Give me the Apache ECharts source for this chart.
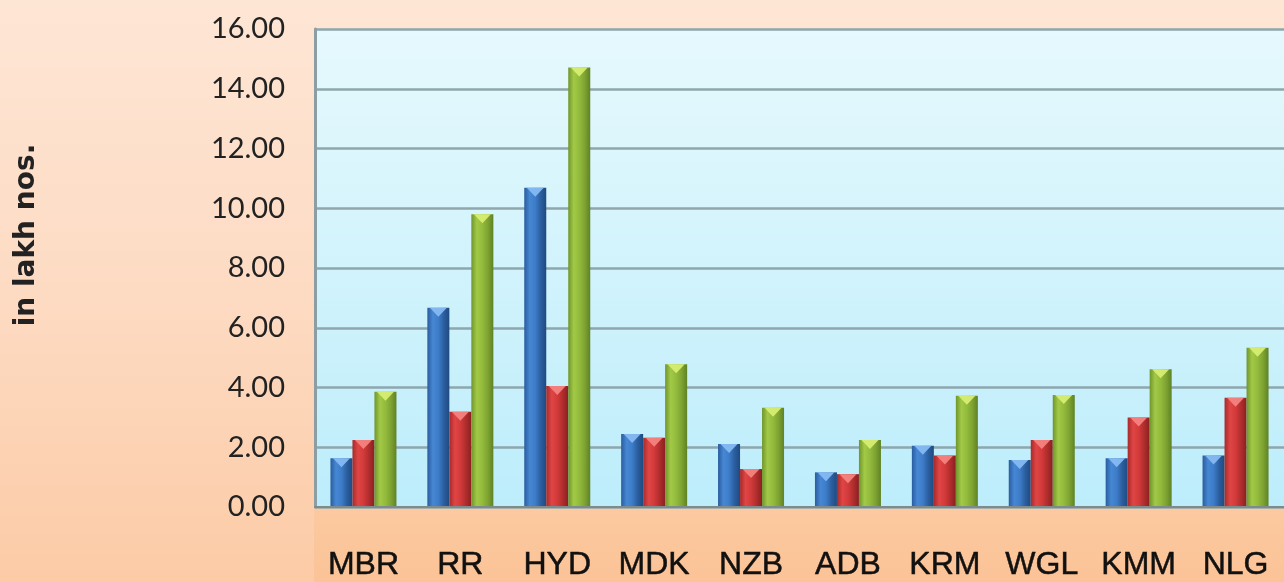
<!DOCTYPE html>
<html>
<head>
<meta charset="utf-8">
<script src="https://cdn.jsdelivr.net/npm/echarts@6/dist/echarts.min.js"></script>
<style>
html,body{margin:0;padding:0;width:1284px;height:582px;overflow:hidden;}
#chart{width:1284px;height:582px;}
</style>
</head>
<body>
<div id="chart"></div>
<script>
// ---- data ----
const categories = ['MBR', 'RR', 'HYD', 'MDK', 'NZB', 'ADB', 'KRM', 'WGL', 'KMM', 'NLG'];
const seriesBlue = [1.63, 6.67, 10.69, 2.44, 2.11, 1.16, 2.05, 1.57, 1.63, 1.72];
const seriesRed = [2.24, 3.19, 4.05, 2.32, 1.27, 1.10, 1.72, 2.24, 3.00, 3.66];
const seriesGreen = [3.86, 9.80, 14.71, 4.78, 3.32, 2.24, 3.72, 3.75, 4.61, 5.33];
const yMin = 0, yMax = 16, yStep = 2;
const yAxisTitle = 'in lakh nos.';

// ---- styles ----
function hGrad(stops) {
  return {type: 'linear', x: 0, y: 0, x2: 1, y2: 0,
    colorStops: stops.map((c, i) => ({offset: i / (stops.length - 1), color: c}))};
}
const bodyColors = [
  hGrad(['#2a5c9f', '#4687d3', '#3d7cc8', '#2b5e9f', '#1f4a80']),
  hGrad(['#a82a2a', '#df4545', '#d33a3a', '#b02d2d', '#8a2020']),
  hGrad(['#6f952c', '#a2c946', '#93bb3c', '#7ea332', '#5f8224'])
];
const capColors = ['#86b9f2', '#f3837e', '#d6ee72'];
const datasets = [seriesBlue, seriesRed, seriesGreen];
const names = ['Series 1', 'Series 2', 'Series 3'];

const series = [];
datasets.forEach((d, i) => {
  series.push({
    type: 'bar', name: names[i], data: d,
    barWidth: 22, barGap: '0%',
    itemStyle: {color: bodyColors[i]},
    z: 2
  });
});
datasets.forEach((d, i) => {
  series.push({
    type: 'pictorialBar', name: names[i] + ' cap', data: d,
    barWidth: 22, barGap: '0%',
    symbol: 'path://M0,0 L10,0 L5,6 Z',
    symbolSize: [17, 9],
    symbolPosition: 'end',
    itemStyle: {color: capColors[i], opacity: 0.95},
    z: 3, silent: true
  });
});

const chart = echarts.init(document.getElementById('chart'), null, {renderer: 'canvas'});
chart.setOption({
  animation: false,
  backgroundColor: {type: 'linear', x: 0, y: 0, x2: 0, y2: 1,
    colorStops: [{offset: 0, color: '#fee6d5'}, {offset: 0.5, color: '#fddbc3'}, {offset: 1, color: '#fccba6'}]},
  graphic: {
    elements: [{
      type: 'rect', z: -10, silent: true,
      shape: {x: 314, y: 508, width: 980, height: 80},
      style: {fill: {type: 'linear', x: 0, y: 0, x2: 0, y2: 1,
        colorStops: [{offset: 0, color: '#fcc9a0'}, {offset: 1, color: '#fbc296'}]}}
    }]
  },
  grid: {
    left: 315, top: 29, right: -7, bottom: 75,
    show: true,
    borderWidth: 0,
    backgroundColor: {type: 'linear', x: 0, y: 0, x2: 0, y2: 1,
      colorStops: [{offset: 0, color: '#e6f9fd'}, {offset: 1, color: '#bdedfb'}]}
  },
  xAxis: {
    type: 'category', data: categories,
    axisTick: {show: false},
    axisLine: {show: true, lineStyle: {color: '#7d8b8d', width: 2}},
    axisLabel: {
      interval: 0, hideOverlap: false,
      margin: 42, color: '#111',
      fontFamily: 'Liberation Sans', fontSize: 32,
      textBorderColor: '#111', textBorderWidth: 0.5
    },
    z: 5
  },
  yAxis: {
    type: 'value', min: yMin, max: yMax, interval: yStep,
    name: yAxisTitle, nameLocation: 'middle', nameRotate: 90, nameGap: 274,
    nameTextStyle: {fontFamily: 'DejaVu Sans', fontWeight: 'bold', fontSize: 28, color: '#222',
      padding: [0, 0, 0, 66]},
    axisLine: {show: true, lineStyle: {color: '#8b9ea3', width: 3}},
    axisTick: {show: false},
    splitLine: {show: true, lineStyle: {color: '#8ea6ac', width: 2.5}},
    axisLabel: {
      margin: 30, color: '#222',
      fontFamily: 'Lato', fontSize: 29,
      formatter: v => v.toFixed(2)
    }
  },
  series: series
});
</script>
</body>
</html>
